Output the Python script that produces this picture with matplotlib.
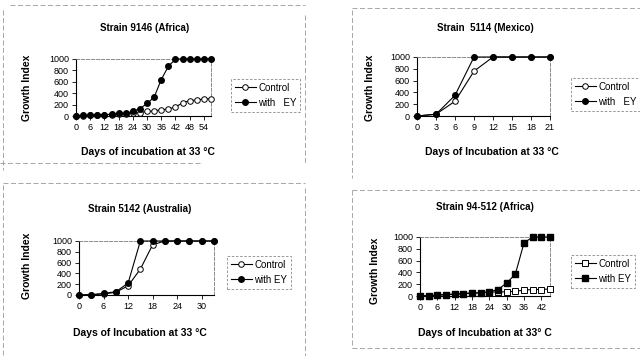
import matplotlib.pyplot as plt
from matplotlib.lines import Line2D

plt.rcParams['font.family'] = ['Liberation Sans', 'DejaVu Sans']

# Strain 9146 (Africa)
days_a = [0, 3, 6, 9, 12, 15, 18, 21, 24, 27, 30, 33, 36, 39, 42, 45, 48, 51, 54, 57]
ctrl_a = [0, 5, 10, 15, 20, 25, 35, 40, 50, 60, 80, 90, 110, 120, 160, 230, 270, 280, 300, 300]
ey_a = [0, 10, 15, 20, 25, 30, 50, 50, 80, 130, 220, 330, 640, 870, 1000, 1000, 1000, 1000, 1000, 1000]

# Strain 5114 (Mexico)
days_m = [0, 3, 6, 9, 12, 15, 18, 21]
ctrl_m = [0, 30, 250, 760, 1000, 1000, 1000, 1000]
ey_m = [0, 30, 350, 1000, 1000, 1000, 1000, 1000]

# Strain 5142 (Australia)
days_au = [0, 3, 6, 9, 12, 15, 18, 21, 24, 27, 30, 33]
ctrl_au = [0, 5, 20, 50, 170, 480, 930, 1000, 1000, 1000, 1000, 1000]
ey_au = [0, 5, 30, 60, 220, 1000, 1000, 1000, 1000, 1000, 1000, 1000]

# Strain 94-512 (Africa)
days_b = [0, 3, 6, 9, 12, 15, 18, 21, 24, 27, 30, 33, 36, 39, 42, 45]
ctrl_b = [0, 5, 15, 25, 30, 40, 50, 55, 65, 70, 70, 80, 100, 110, 110, 120]
ey_b = [0, 5, 15, 25, 30, 40, 50, 55, 70, 110, 220, 370, 900, 1000, 1000, 1000]

W, H = 640, 356
fig = plt.figure(figsize=(6.4, 3.56), dpi=100)


def px(x, y):
    return x / W, 1 - y / H


def panel(rect, days, ctrl, ey, xmax, xticks, marker, title, xlabel, ey_label,
          tpos, xpos, ypos, legpos):
    l, t, r, b = rect
    ax = fig.add_axes([l / W, 1 - b / H, (r - l) / W, (b - t) / H])
    ax.plot(days, ctrl, color='black', lw=0.8, marker=marker, ms=4,
            mfc='white', mec='black', mew=0.7, clip_on=False, label='Control', zorder=3)
    ax.plot(days, ey, color='black', lw=0.8, marker=marker, ms=4,
            mfc='black', mec='black', clip_on=False, label=ey_label, zorder=4)
    ax.set_xlim(0, xmax)
    ax.set_ylim(0, 1000)
    ax.set_xticks(xticks)
    ax.set_yticks([0, 200, 400, 600, 800, 1000])
    ax.tick_params(labelsize=6.5, length=3, width=0.6, pad=2)
    for s in ['top', 'right']:
        ax.spines[s].set_linestyle((0, (4, 2)))
        ax.spines[s].set_color('#777777')
        ax.spines[s].set_linewidth(0.6)
    for s in ['left', 'bottom']:
        ax.spines[s].set_linewidth(0.8)
    fig.text(*px(*tpos), title, ha='center', va='center', fontsize=7, fontweight='bold')
    fig.text(*px(*xpos), xlabel, ha='center', va='center', fontsize=7.5, fontweight='bold')
    fig.text(*px(*ypos), 'Growth Index', ha='center', va='center', fontsize=7.5,
             fontweight='bold', rotation=90)
    leg = ax.legend(loc='upper left', bbox_to_anchor=px(*legpos), bbox_transform=fig.transFigure,
                    fontsize=7, handlelength=2.2, handletextpad=0.2, borderpad=0.4,
                    labelspacing=0.5, fancybox=False, framealpha=1)
    leg.get_frame().set_edgecolor('#888888')
    leg.get_frame().set_linestyle((0, (3, 2)))
    leg.get_frame().set_linewidth(0.6)
    return ax


panel((76, 59, 211, 116), days_a, ctrl_a, ey_a, 57, range(0, 55, 6), 'o',
      'Strain 9146 (Africa)', 'Days of incubation at 33 °C', 'with   EY',
      (145, 28), (148, 152), (27, 88), (226, 74))
panel((417, 57, 550, 116), days_m, ctrl_m, ey_m, 21, range(0, 22, 3), 'o',
      'Strain  5114 (Mexico)', 'Days of Incubation at 33 °C', 'with   EY',
      (485, 28), (492, 152), (370, 88), (566, 73))
panel((79, 241, 214, 295), days_au, ctrl_au, ey_au, 33, range(0, 31, 6), 'o',
      'Strain 5142 (Australia)', 'Days of Incubation at 33 °C', 'with EY',
      (140, 209), (140, 333), (27, 266), (222, 251))
panel((420, 237, 550, 296), days_b, ctrl_b, ey_b, 45, range(0, 43, 6), 's',
      'Strain 94-512 (Africa)', 'Days of Incubation at 33° C', 'with EY',
      (485, 207), (485, 333), (375, 271), (566, 250))

# scanned page frame lines
frames = [
    ((10, 305), (5, 5)), ((305, 305), (15, 165)), ((0, 200), (163, 163)), ((3, 3), (10, 170)),
    ((352, 640), (8, 8)), ((352, 352), (10, 178)),
    ((3, 305), (183, 183)), ((305, 305), (188, 356)), ((3, 3), (185, 356)),
    ((352, 640), (190, 190)), ((352, 352), (190, 348)), ((352, 640), (348, 348)),
]
for xs, ys in frames:
    fig.add_artist(Line2D([x / W for x in xs], [1 - y / H for y in ys], color='#999999',
                          lw=0.6, ls=(0, (6, 3))))

fig.savefig('out.png', dpi=100, facecolor='white')
